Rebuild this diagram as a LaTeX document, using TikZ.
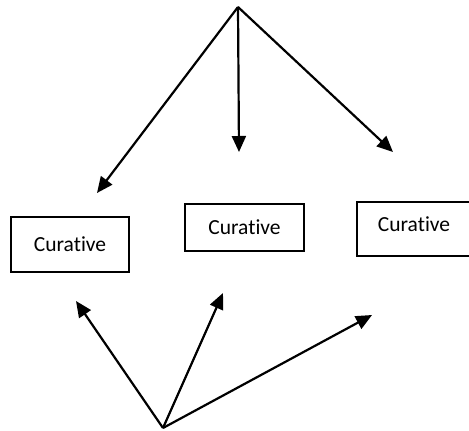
\documentclass[tikz,border=0pt]{standalone}
\usepackage{fontspec}
\setmainfont[Ligatures=NoCommon]{Carlito}
\usetikzlibrary{arrows.meta}
\begin{document}
\begin{tikzpicture}[x=1pt,y=-1pt,
  box/.style={draw=black,line width=1.4pt,inner sep=0pt,font=\fontsize{21.5}{25}\selectfont},
  arr/.style={line width=2.2pt,-{Triangle[length=16pt,width=14pt]}}]
\useasboundingbox (0,0) rectangle (469,431);
\fill[white] (0,0) rectangle (469,431);
% boxes
\node[box,minimum width=118pt,minimum height=55pt] (b1) at (70,244.5) {Curative};
\node[box,minimum width=119pt,minimum height=47pt] (b2) at (244.5,227.5) {Curative};
\node[box,minimum width=114pt,minimum height=54pt,text height=15pt,text depth=11pt] (b3) at (414,229) {Curative};
% top fan
\coordinate (top) at (238,7);
\coordinate (t1) at (97,193);
\coordinate (t2) at (239,152);
\coordinate (t3) at (393,152);
\draw[arr] (top) -- (t1);
\draw[arr] (top) -- (t2);
\draw[arr] (top) -- (t3);
% bottom fan
\coordinate (bot) at (163,428);
\coordinate (u1) at (76,301);
\coordinate (u2) at (223,293);
\coordinate (u3) at (372,315);
\draw[arr] (bot) -- (u1);
\draw[arr] (bot) -- (u2);
\draw[arr] (bot) -- (u3);
\end{tikzpicture}
\end{document}
